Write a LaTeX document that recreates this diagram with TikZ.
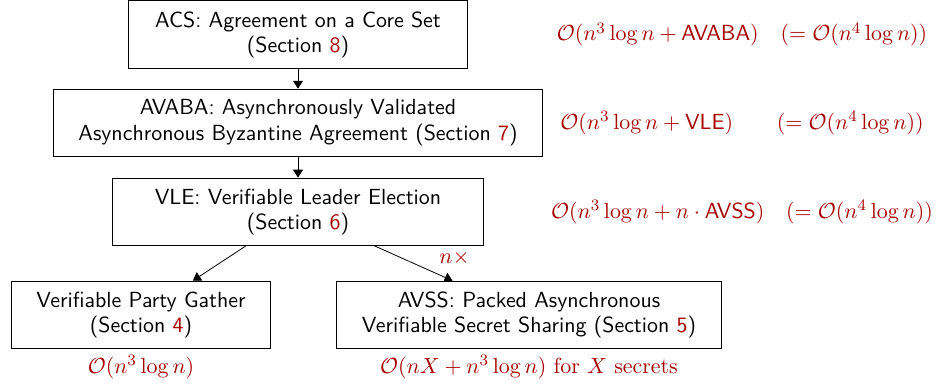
\documentclass[tikz,border=0pt]{standalone}
\usepackage{amsmath,amssymb}
\usepackage{tikz}
\usetikzlibrary{positioning,arrows.meta,calc}
\usepackage{xcolor}
\colorlet{linkred}{red!65!black}
\newcommand{\secref}[1]{\textcolor{linkred}{#1}}

\begin{document}
\begin{tikzpicture}[>={Triangle[length=4pt,width=5pt]},node distance=10pt and 20pt,
  every node/.style={font=\fontsize{10.95}{12.6}\selectfont},
  block/.style={draw,font=\fontsize{10.95}{12.6}\selectfont\sffamily,align=center,inner xsep=12.5pt,inner ysep=5.3pt},
  cost/.style={text=linkred,inner sep=2pt}]
\useasboundingbox (0,0.2pt) rectangle (469.5pt,-192.5pt);
\coordinate (costcol) at (371pt,0);
\node[block,minimum width=169.5pt,anchor=north] (acs) at (149pt,0) {ACS: Agreement on a Core Set\\(Section \secref{8})};
\node[block] (avaba) [below=of acs] {AVABA: Asynchronously Validated\\Asynchronous Byzantine Agreement (Section \secref{7})};
\node[block,minimum width=185.5pt] (vle) [below=10.5pt of avaba] {VLE: Verifiable Leader Election\\(Section \secref{6})};
\node[block] (gather) [below=17.5pt of vle,xshift=-78.5pt] {Verifiable Party Gather\\(Section \secref{4})};
\node[block] (avss) [below=17.5pt of vle,xshift=115.5pt] {AVSS: Packed Asynchronous\\Verifiable Secret Sharing (Section \secref{5})};
% costs
\node[cost] (acscost) at (acs -| costcol) {$\mathcal{O}(n^3\log n+\mathsf{AVABA})\quad(=\mathcal{O}(n^4\log n))$};
\node[cost] (avabacost) at (avaba -| costcol) {$\mathcal{O}(n^3\log n+\mathsf{VLE})\qquad(=\mathcal{O}(n^4\log n))$};
\node[cost] (vlecost) at (vle -| costcol) {$\mathcal{O}(n^3\log n+n\cdot\mathsf{AVSS})\quad(=\mathcal{O}(n^4\log n))$};
\node[cost] (gathercost) [below=1pt of gather] {$\mathcal{O}(n^3\log n)$};
\node[cost] (avsscost) [below=1pt of avss] {$\mathcal{O}(nX+n^3\log n)\ \mathrm{for}\ X\ \mathrm{secrets}$};
\draw[->] (acs) -- (avaba);
\draw[->] (avaba) -- (vle);
\draw[->] (vle) -- (gather);
\draw[->] (vle) -- (avss) node[pos=0.75,above right,cost,inner sep=3pt]{$n\times$};
\end{tikzpicture}
\end{document}
